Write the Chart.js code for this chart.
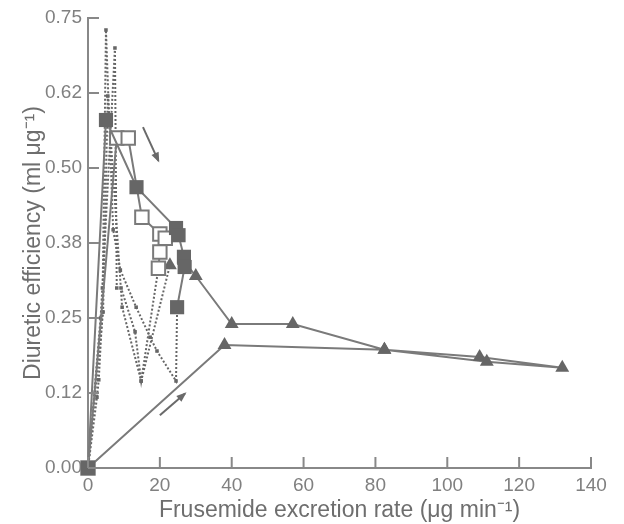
<!DOCTYPE html>
<html>
<head>
<meta charset="utf-8">
<script src="https://cdn.jsdelivr.net/npm/chart.js@4.4.1/dist/chart.umd.min.js"></script>
<style>
  html, body { margin: 0; padding: 0; background: #fff; }
  #wrap { width: 624px; height: 524px; }
</style>
</head>
<body>
<div id="wrap"><canvas id="myChart" width="624" height="524"></canvas></div>
<script>
// x = frusemide excretion rate, y = diuretic efficiency
const filledX = [0, 5, 13.5, 24.5, 25.2, 26.7, 26.9, 24.8];
const filledY = [0, 0.58, 0.468, 0.40, 0.388, 0.352, 0.335, 0.268];

const openX = [0, 8, 11.2, 15, 20, 21.5, 20, 19.6];
const openY = [0, 0.55, 0.55, 0.418, 0.39, 0.383, 0.36, 0.333];

const triX = [0, 38, 82.5, 109, 132, 111, 82.5, 57, 40, 30, 26.7];
const triY = [0, 0.205, 0.197, 0.185, 0.167, 0.177, 0.197, 0.24, 0.24, 0.32, 0.345];

const dot1X = [0, 2.5, 3, 4, 5, 7, 9, 13.4, 17.3, 19.2, 24.5, 24.8];
const dot1Y = [0, 0.118, 0.147, 0.26, 0.73, 0.397, 0.33, 0.268, 0.218, 0.195, 0.145, 0.268];

const dot2X = [0, 3.5, 4, 7.5, 8, 9.2, 13.1, 14.8, 19.6];
const dot2Y = [0, 0.25, 0.30, 0.70, 0.30, 0.30, 0.227, 0.145, 0.333];

const dot3X = [0, 4.2, 5.5, 9.5, 14.8, 22.8];
const dot3Y = [0, 0.26, 0.62, 0.268, 0.145, 0.338];

const xTicks = [0, 20, 40, 60, 80, 100, 120, 140];
const yTickLabels = ['0.00', '0.12', '0.25', '0.38', '0.50', '0.62', '0.75'];

// arrows: [x0, y0, x1, y1] in data units
const arrows = [[15.3, 0.568, 19.6, 0.512], [20, 0.088, 27, 0.124]];

const pts = (xs, ys) => xs.map((x, i) => ({ x, y: ys[i] }));

const lineCol = '#7a7a7a';
const markCol = '#666666';

const dotted = (xs, ys, last) => ({
  data: pts(xs, ys),
  showLine: true,
  borderColor: markCol,
  borderWidth: 2,
  borderDash: [2, 2],
  pointStyle: xs.map((_, i) => (last && i === xs.length - 1) ? 'triangle' : 'rect'),
  pointRadius: xs.map((_, i) => (last && i === xs.length - 1) ? 8 : 2.5),
  pointBackgroundColor: markCol,
  pointBorderColor: markCol,
  pointBorderWidth: 0,
  order: 5
});

const innerTicks = {
  id: 'innerTicks',
  afterDatasetsDraw(chart) {
    const { ctx, scales: { x, y } } = chart;
    ctx.save();
    ctx.strokeStyle = '#888';
    ctx.lineWidth = 2;
    xTicks.forEach(v => {
      const px = x.getPixelForValue(v);
      ctx.beginPath(); ctx.moveTo(px, y.bottom); ctx.lineTo(px, y.bottom - 11); ctx.stroke();
    });
    yTickLabels.forEach((_, i) => {
      const py = y.getPixelForValue(i * 0.125);
      ctx.beginPath(); ctx.moveTo(x.left, py); ctx.lineTo(x.left + 11, py); ctx.stroke();
    });
    ctx.strokeStyle = '#6a6a6a';
    ctx.fillStyle = '#6a6a6a';
    arrows.forEach(a => {
      const x0 = x.getPixelForValue(a[0]), y0 = y.getPixelForValue(a[1]);
      const x1 = x.getPixelForValue(a[2]), y1 = y.getPixelForValue(a[3]);
      const ang = Math.atan2(y1 - y0, x1 - x0);
      ctx.beginPath(); ctx.moveTo(x0, y0); ctx.lineTo(x1, y1); ctx.stroke();
      ctx.beginPath();
      ctx.moveTo(x1 + 2 * Math.cos(ang), y1 + 2 * Math.sin(ang));
      ctx.lineTo(x1 - 9 * Math.cos(ang - 0.45), y1 - 9 * Math.sin(ang - 0.45));
      ctx.lineTo(x1 - 9 * Math.cos(ang + 0.45), y1 - 9 * Math.sin(ang + 0.45));
      ctx.closePath(); ctx.fill();
    });
    ctx.restore();
  }
};

const ctx = document.getElementById('myChart').getContext('2d');
const myChart = new Chart(ctx, {
  type: 'scatter',
  data: {
    datasets: [
      dotted(dot1X, dot1Y),
      dotted(dot2X, dot2Y),
      dotted(dot3X, dot3Y, true),
      {
        data: pts(triX, triY),
        showLine: true,
        borderColor: lineCol,
        borderWidth: 2,
        pointStyle: 'triangle',
        pointRadius: 8,
        pointBackgroundColor: markCol,
        pointBorderColor: markCol,
        pointBorderWidth: 0,
        order: 3
      },
      {
        data: pts(openX, openY),
        showLine: true,
        borderColor: lineCol,
        borderWidth: 2,
        pointStyle: 'rect',
        pointRadius: 9.5,
        pointBackgroundColor: '#ffffff',
        pointBorderColor: lineCol,
        pointBorderWidth: 2,
        order: 2
      },
      {
        data: pts(filledX, filledY),
        showLine: true,
        borderColor: lineCol,
        borderWidth: 2,
        pointStyle: 'rect',
        pointRadius: 10,
        pointBackgroundColor: markCol,
        pointBorderColor: markCol,
        pointBorderWidth: 0,
        order: 1
      }
    ]
  },
  options: {
    responsive: false,
    animation: false,
    clip: false,
    layout: { padding: { top: 18, right: 33, left: 0, bottom: 0 } },
    plugins: { legend: { display: false }, tooltip: { enabled: false } },
    scales: {
      x: {
        type: 'linear',
        min: 0,
        max: 140,
        afterFit: s => { s.height = 56; },
        afterBuildTicks: s => { s.ticks = xTicks.map(v => ({ value: v })); },
        grid: { display: false, drawTicks: false },
        border: { color: '#888', width: 2 },
        ticks: { color: '#808080', font: { family: 'Liberation Sans', size: 19 }, padding: 6 },
        title: {
          display: true,
          text: 'Frusemide excretion rate (μg min⁻¹)',
          color: '#6e6e6e',
          font: { family: 'Liberation Sans', size: 23 },
          padding: { top: 0, bottom: 0 }
        }
      },
      y: {
        type: 'linear',
        min: 0,
        max: 0.75,
        afterFit: s => { s.width = 88; },
        afterBuildTicks: s => { s.ticks = yTickLabels.map((_, i) => ({ value: i * 0.125 })); },
        grid: { display: false, drawTicks: false },
        border: { color: '#888', width: 2 },
        ticks: {
          color: '#808080',
          font: { family: 'Liberation Sans', size: 19 },
          padding: 6,
          callback: (v, i) => yTickLabels[i]
        },
        title: {
          display: true,
          text: 'Diuretic efficiency (ml μg⁻¹)',
          color: '#6e6e6e',
          font: { family: 'Liberation Sans', size: 23 },
          padding: { top: 20, bottom: 0 }
        }
      }
    }
  },
  plugins: [innerTicks]
});
</script>
</body>
</html>
